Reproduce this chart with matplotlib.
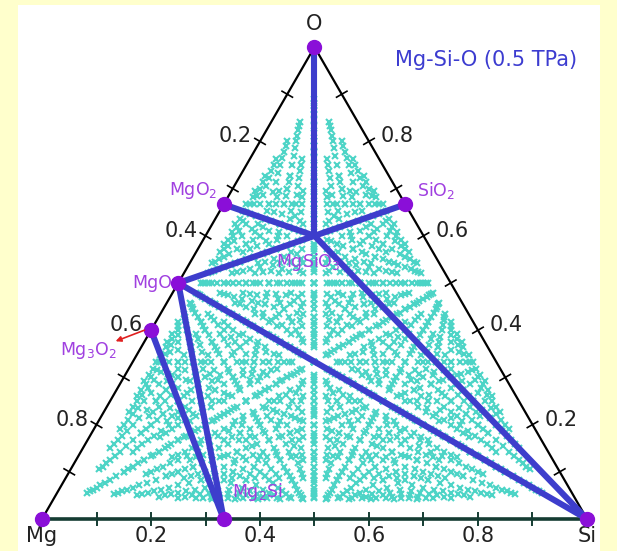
import numpy as np
import matplotlib.pyplot as plt
from itertools import product

# candidate cells Mg_a Si_b O_c: each count 1..max_count, at most max_total atoms
max_count = 16
max_total = 24

# stable phases, given as atom counts (Mg, Si, O)
phase_names = ["Mg", "Si", "O", "MgO", "MgO2", "Mg3O2", "SiO2", "MgSiO3", "Mg2Si"]
mg_atoms = [1, 0, 0, 1, 1, 3, 0, 1, 2]
si_atoms = [0, 1, 0, 0, 0, 0, 1, 1, 1]
o_atoms = [0, 0, 1, 1, 2, 2, 2, 3, 0]

# convex hull tie lines
tie_lines = [("O", "MgSiO3"), ("MgO2", "MgSiO3"), ("SiO2", "MgSiO3"),
             ("MgO", "MgSiO3"), ("MgSiO3", "Si"), ("MgO", "Si"),
             ("MgO", "Mg2Si"), ("Mg3O2", "Mg2Si")]

tick_values = [0.2, 0.4, 0.6, 0.8]

H = np.sqrt(3) / 2
PX = 1 / 545.0  # one pixel in data units


def to_xy(mg, si, o):
    n = mg + si + o
    return (si + o / 2) / n, o / n * H


fig = plt.figure(figsize=(6.17, 5.51), dpi=100, facecolor="#FFFFCC")
ax = fig.add_axes([18 / 617, 0, 582 / 617, 546 / 551])
ax.set_xlim(-24 * PX, 558 * PX)
ax.set_ylim(-32 * PX, 514 * PX)
ax.axis("off")
ax.add_patch(plt.Rectangle((-24 * PX, -32 * PX), 582 * PX, 546 * PX,
                           facecolor="white", edgecolor="none", zorder=0))

# all sampled compositions
cand = np.array([c for c in product(range(1, max_count + 1), repeat=3)
                 if sum(c) <= max_total], float)
cx, cy = to_xy(cand[:, 0], cand[:, 1], cand[:, 2])
ax.plot(cx, cy, "x", color="#4cd4c6", ms=5, mew=1.5, zorder=1)

# triangle edges
ax.plot([0, 0.5, 1], [0, H, 0], color="black", lw=1.6, zorder=2)
ax.plot([0, 1], [0, 0], color="#143c32", lw=2.6, zorder=2)

# ticks every 0.1 on each edge
tl = 6 * PX
for v in np.arange(0.1, 0.95, 0.1):
    ax.plot([v, v], [-tl, tl], color="#143c32", lw=1.4, zorder=2)
    lx, ly = (1 - v) / 2, (1 - v) * H
    ax.plot([lx - tl * H, lx + tl * H], [ly + tl / 2, ly - tl / 2],
            color="black", lw=1.2, zorder=2)
    rx, ry = 1 - v / 2, v * H
    ax.plot([rx - tl * H, rx + tl * H], [ry - tl / 2, ry + tl / 2],
            color="black", lw=1.2, zorder=2)

lab = dict(fontsize=15, color="#222222", family="DejaVu Sans")
for v in tick_values:
    ax.text(v, -17 * PX, f"{v:.1f}", ha="center", va="center", **lab)
    ax.text((1 - v) / 2 - 8 * PX, (1 - v) * H + 5 * PX, f"{v:.1f}",
            ha="right", va="center", **lab)
    ax.text(1 - v / 2 + 12 * PX, v * H + 5 * PX, f"{v:.1f}",
            ha="left", va="center", **lab)

ax.text(0, -17 * PX, "Mg", ha="center", va="center", **lab)
ax.text(1, -17 * PX, "Si", ha="center", va="center", **lab)
ax.text(0.5, H + 23 * PX, "O", ha="center", va="center", **lab)

# phase coordinates
pos = {n: to_xy(a, b, c) for n, a, b, c in zip(phase_names, mg_atoms, si_atoms, o_atoms)}

for p, q in tie_lines:
    ax.plot([pos[p][0], pos[q][0]], [pos[p][1], pos[q][1]],
            color="#3d3dcc", lw=4.4, solid_capstyle="round", zorder=3)

for n in phase_names:
    if n == "MgSiO3":
        continue
    ax.plot(*pos[n], "o", color="#8a0fd8", ms=10, zorder=4)

purple = dict(fontsize=12.5, color="#a040e0", family="DejaVu Sans", zorder=5)
ax.text(pos["MgO2"][0] - 6 * PX, pos["MgO2"][1] + 14 * PX, r"MgO$_2$",
        ha="right", va="center", **purple)
ax.text(pos["SiO2"][0] + 12 * PX, pos["SiO2"][1] + 14 * PX, r"SiO$_2$",
        ha="left", va="center", **purple)
ax.text(pos["MgO"][0] - 6 * PX, pos["MgO"][1], "MgO",
        ha="right", va="center", **purple)
ax.text(pos["Mg3O2"][0] - 63 * PX, pos["Mg3O2"][1] - 20 * PX, r"Mg$_3$O$_2$",
        ha="center", va="center", **purple)
ax.text(pos["MgSiO3"][0] - 6 * PX, pos["MgSiO3"][1] - 26 * PX, r"MgSiO$_3$",
        ha="center", va="center", **purple)
ax.text(pos["Mg2Si"][0] + 8 * PX, pos["Mg2Si"][1] + 27 * PX, r"Mg$_2$Si",
        ha="left", va="center", **purple)

ax.annotate("", xy=(pos["Mg3O2"][0] - 38 * PX, pos["Mg3O2"][1] - 12 * PX),
            xytext=(pos["Mg3O2"][0] - 4 * PX, pos["Mg3O2"][1] + 1 * PX),
            arrowprops=dict(arrowstyle="-|>", color="#e02020", lw=1.2,
                            mutation_scale=8), zorder=5)

ax.text(444 * PX, 459 * PX, "Mg-Si-O (0.5 TPa)",
        ha="center", va="center", fontsize=15, color="#3c3cd0",
        family="DejaVu Sans", zorder=5)

fig.savefig("out.png", dpi=100, facecolor=fig.get_facecolor())
